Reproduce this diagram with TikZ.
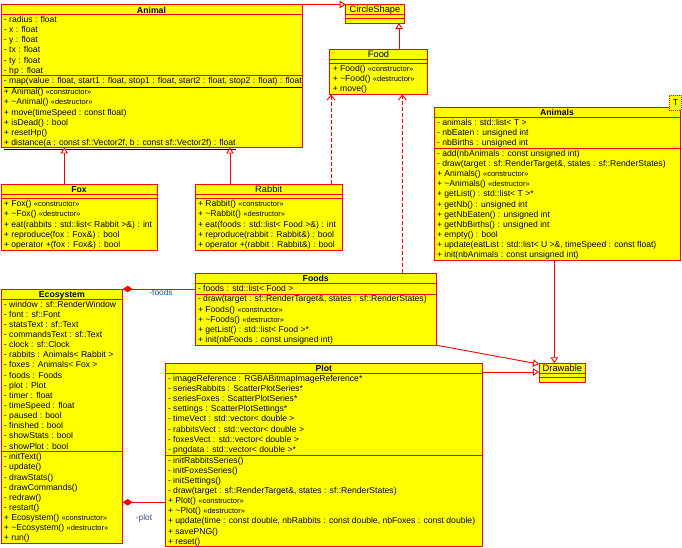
\documentclass[tikz,border=0pt]{standalone}
\usepackage{fontspec}
\setmainfont{Liberation Sans}
\usetikzlibrary{arrows.meta}
\definecolor{umlred}{RGB}{255,0,0}
\definecolor{umlyellow}{RGB}{255,255,0}
\definecolor{umlblue}{RGB}{50,70,130}
\newcommand\stereo[1]{{\fontsize{7.5}{9}\selectfont «#1»}}
\newcommand\tld{\textasciitilde}
\newcommand\regtitle[1]{{\mdseries\fontsize{9.3}{10}\selectfont #1}}
\tikzset{
 classbox/.style={draw=umlred, fill=umlyellow, line width=0.9pt, inner sep=0pt, outer sep=0pt, rectangle},
 sepline/.style={draw=umlred, line width=0.9pt},
 clstitle/.style={font=\fontsize{8.7}{10.15}\selectfont\bfseries, inner sep=0pt},
 clstext/.style={font=\fontsize{8.6}{10.15}\selectfont, inner sep=0pt, anchor=base west},
 inherit/.style={draw=umlred, line width=0.9pt, -{Triangle[open, length=6pt, width=7.5pt, fill=white]}},
 depend/.style={draw=umlred, line width=0.9pt, dash pattern=on 4pt off 2pt, -{Straight Barb[length=5pt, width=8pt]}},
 compos/.style={draw=umlred, line width=0.9pt, {Diamond[length=10pt, width=6.5pt, fill=umlred]}-},
 rolelbl/.style={font=\fontsize{8.3}{10}\selectfont, text=umlblue, inner sep=0pt},
}
% #1 name, #2 xl, #3 xr, #4 top, #5 title, #6 nattr, #7 attrs, #8 nmeth, #9 meths
\newcommand\umlcls[9]{%
 \pgfmathsetmacro\cA{#4+10}%
 \pgfmathsetmacro\cB{\cA+((#6==0) ? 4.5 : (#6*10.15+0.5))}%
 \pgfmathsetmacro\cC{\cB+((#8==0) ? 4.5 : (#8*10.15+0.5))}%
 \pgfmathsetmacro\cW{#3-#2}\pgfmathsetmacro\cH{\cC-#4}%
 \node[classbox, minimum width=\cW pt, minimum height=\cH pt, anchor=north west] (#1) at (#2,#4) {};
 \draw[sepline] (#2,\cA) -- (#3,\cA);
 \draw[sepline] (#2,\cB) -- (#3,\cB);
 \node[clstitle, anchor=base] (#1-title) at ({(#2+#3)/2},\cA-1.5) {#5};
 \ifnum#6>0 \node[clstext] (#1-attrs) at (#2+2.8,\cA+8) {\begin{tabular}[t]{@{}l@{}}#7\end{tabular}};\fi
 \ifnum#8>0 \node[clstext] (#1-meths) at (#2+2.8,\cB+8) {\begin{tabular}[t]{@{}l@{}}#9\end{tabular}};\fi
}
\begin{document}
\begin{tikzpicture}[x=1pt,y=-1pt]
\fill[white] (0,0) rectangle (682,547);
\useasboundingbox (0,0) rectangle (682,547);

\umlcls{animal}{1}{302}{4.5}{Animal}{6}{%
- radius : float\\ - x : float\\ - y : float\\ - tx : float\\ - ty : float\\ - hp : float}{7}{%
\underline{- map(value : float, start1 : float, stop1 : float, start2 : float, stop2 : float) : float}\\
+ Animal() \stereo{constructor}\\
+ \tld Animal() \stereo{destructor}\\
+ move(timeSpeed : const float)\\
+ isDead() : bool\\
+ resetHp()\\
\underline{+ distance(a : const sf::Vector2f, b : const sf::Vector2f) : float}}

\umlcls{circ}{345.7}{404.3}{4}{\regtitle{CircleShape}}{0}{}{0}{}

\umlcls{food}{329.8}{427.3}{49}{\regtitle{Food}}{0}{}{3}{%
+ Food() \stereo{constructor}\\
+ \tld Food() \stereo{destructor}\\
+ move()}

\umlcls{animals}{434}{680}{107.3}{Animals}{3}{%
- animals : std::list< T >\\ - nbEaten : unsigned int\\ - nbBirths : unsigned int}{11}{%
- add(nbAnimals : const unsigned int)\\
- draw(target : sf::RenderTarget\&, states : sf::RenderStates)\\
+ Animals() \stereo{constructor}\\
+ \tld Animals() \stereo{destructor}\\
+ getList() : std::list< T >*\\
+ getNb() : unsigned int\\
+ getNbEaten() : unsigned int\\
+ getNbBirths() : unsigned int\\
+ empty() : bool\\
+ update(eatList : std::list< U >\&, timeSpeed : const float)\\
+ init(nbAnimals : const unsigned int)}

\node[draw=umlred, line width=0.9pt, dash pattern=on 1pt off 1pt, fill=umlyellow, minimum width=12pt, minimum height=15pt, inner sep=0pt, anchor=north west, font=\fontsize{8.7}{10}\selectfont] (tparam) at (669,95) {T};

\umlcls{fox}{1}{157}{184.3}{Fox}{0}{}{5}{%
+ Fox() \stereo{constructor}\\
+ \tld Fox() \stereo{destructor}\\
+ eat(rabbits : std::list< Rabbit >\&) : int\\
+ reproduce(fox : Fox\&) : bool\\
+ operator +(fox : Fox\&) : bool}

\umlcls{rabbit}{195}{342.3}{184.3}{\regtitle{Rabbit}}{0}{}{5}{%
+ Rabbit() \stereo{constructor}\\
+ \tld Rabbit() \stereo{destructor}\\
+ eat(foods : std::list< Food >\&) : int\\
+ reproduce(rabbit : Rabbit\&) : bool\\
+ operator +(rabbit : Rabbit\&) : bool}

\umlcls{foods}{195}{436.5}{273.3}{Foods}{1}{%
- foods : std::list< Food >}{5}{%
- draw(target : sf::RenderTarget\&, states : sf::RenderStates)\\
+ Foods() \stereo{constructor}\\
+ \tld Foods() \stereo{destructor}\\
+ getList() : std::list< Food >*\\
+ init(nbFoods : const unsigned int)}

\umlcls{ecosystem}{1}{122.7}{289}{Ecosystem}{15}{%
- window : sf::RenderWindow\\ - font : sf::Font\\ - statsText : sf::Text\\ - commandsText : sf::Text\\
- clock : sf::Clock\\ - rabbits : Animals< Rabbit >\\ - foxes : Animals< Fox >\\ - foods : Foods\\
- plot : Plot\\ - timer : float\\ - timeSpeed : float\\ - paused : bool\\ - finished : bool\\
- showStats : bool\\ - showPlot : bool}{9}{%
- initText()\\ - update()\\ - drawStats()\\ - drawCommands()\\ - redraw()\\ - restart()\\
+ Ecosystem() \stereo{constructor}\\
+ \tld Ecosystem() \stereo{destructor}\\
+ run()}

\umlcls{plot}{165}{482.7}{363.3}{Plot}{8}{%
- imageReference : RGBABitmapImageReference*\\
- seriesRabbits : ScatterPlotSeries*\\
- seriesFoxes : ScatterPlotSeries*\\
- settings : ScatterPlotSettings*\\
- timeVect : std::vector< double >\\
- rabbitsVect : std::vector< double >\\
- foxesVect : std::vector< double >\\
- pngdata : std::vector< double >*}{9}{%
- initRabbitsSeries()\\
- initFoxesSeries()\\
- initSettings()\\
- draw(target : sf::RenderTarget\&, states : sf::RenderStates)\\
+ Plot() \stereo{constructor}\\
+ \tld Plot() \stereo{destructor}\\
+ update(time : const double, nbRabbits : const double, nbFoxes : const double)\\
+ savePNG()\\
+ reset()}

\umlcls{drawable}{539}{585.7}{363.3}{\regtitle{Drawable}}{0}{}{0}{}

% connector positions
\coordinate (xfox) at (64.3,0);
\coordinate (xrab) at (230,0);
\coordinate (xrabdep) at (331,0);
\coordinate (xfoodsdep) at (402.3,0);
\coordinate (xfood) at (399,0);
\coordinate (xanimals) at (554.3,0);
\coordinate (yplotd) at (0,372);
\coordinate (yplotc) at (0,502.3);

\draw[inherit] (animal.north east) -- (animal.north east -| circ.west);
\draw[inherit] (food.north -| xfood) -- (circ.south -| xfood);
\draw[inherit] (fox.north -| xfox) -- (animal.south -| xfox);
\draw[inherit] (rabbit.north -| xrab) -- (animal.south -| xrab);
\draw[depend] (rabbit.north -| xrabdep) -- (food.south -| xrabdep);
\draw[depend] (foods.north -| xfoodsdep) -- (food.south -| xfoodsdep);
\draw[inherit] (animals.south -| xanimals) -- (drawable.north -| xanimals);
\draw[inherit] (foods.south east) -- ([yshift=-0.8pt]drawable.north west);
\draw[inherit] (plot.east |- yplotd) -- (drawable.west |- yplotd);
\draw[compos] (ecosystem.north east) -- (ecosystem.north east -| foods.west);
\draw[compos] (ecosystem.east |- yplotc) -- (plot.west |- yplotc);

\node[rolelbl] (lfoods) at (161,293) {-foods};
\node[rolelbl] (lplot) at (144,518) {-plot};
\end{tikzpicture}
\end{document}
